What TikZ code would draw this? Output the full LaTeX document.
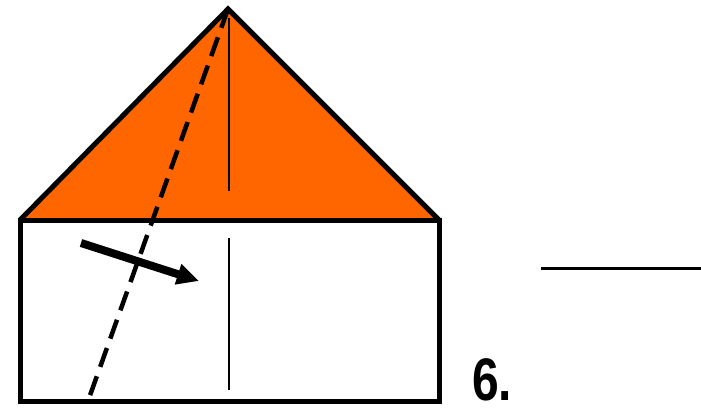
\documentclass[tikz,border=0pt]{standalone}
\usepackage{fontspec}
\setmainfont{Liberation Sans}
\usetikzlibrary{arrows.meta}
\definecolor{roof}{RGB}{255,102,0}
\tikzset{
  outline/.style={line width=5pt, line join=miter},
  crease/.style={line width=1.3pt},
  foldline/.style={line width=4.5pt, dash pattern=on 20pt off 10pt},
  movearrow/.style={line width=8pt, -{Triangle[length=22pt,width=20pt]}},
}
\begin{document}
\begin{tikzpicture}[x=1pt,y=-1pt]
\useasboundingbox (0,0) rectangle (701,407);
\coordinate (apex) at (228,9);
\coordinate (bl) at (20,220);
\coordinate (br) at (439,220);
\coordinate (dl) at (20,401);
\coordinate (dr) at (439,401);
\fill[roof] (bl) -- (apex) -- (br) -- cycle;
\draw[outline] (bl) -- (apex) -- (br);
\draw[outline] (bl) rectangle (dr);
\coordinate (c1) at (229,18);
\coordinate (c2) at (229,191);
\coordinate (c3) at (229,238);
\coordinate (c4) at (229,390);
\draw[crease] (c1) -- (c2);
\draw[crease] (c3) -- (c4);
\coordinate (fe) at (88,401);
\draw[foldline] (apex) -- (fe);
\coordinate (a1) at (81,243);
\coordinate (a2) at (199,281);
\draw[movearrow] (a1) -- (a2);
\coordinate (r1) at (541,268);
\coordinate (r2) at (701,268);
\draw[line width=3pt] (r1) -- (r2);
\node[anchor=base west, inner sep=0pt, xscale=0.8, font=\fontsize{60}{60}\selectfont\bfseries] (lbl) at (472,400) {6.};
\end{tikzpicture}
\end{document}
